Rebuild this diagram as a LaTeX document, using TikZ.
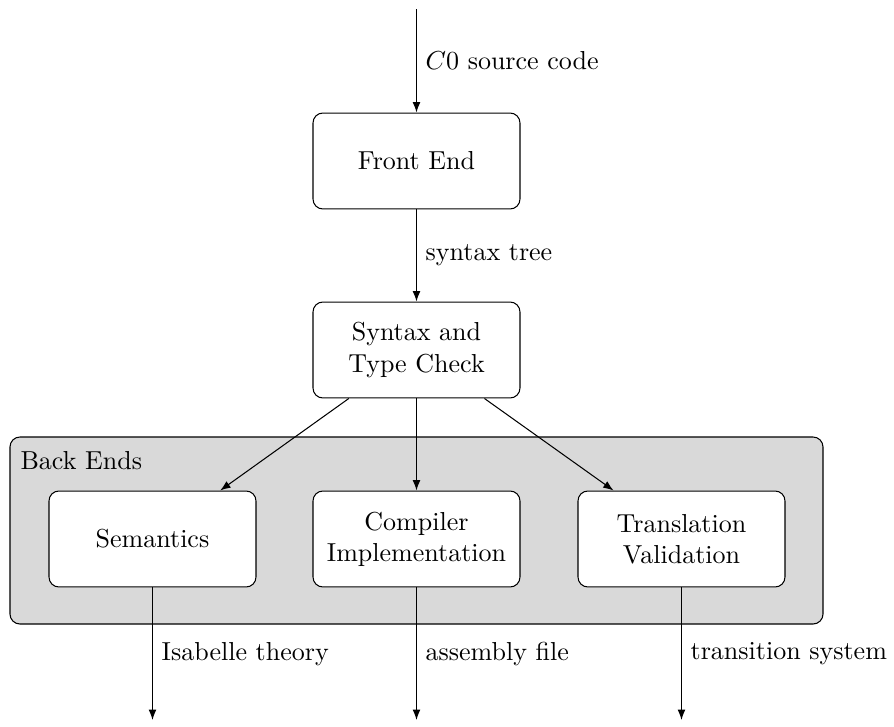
\documentclass[tikz,border=0pt]{standalone}
\usetikzlibrary{arrows.meta}
\begin{document}
\begin{tikzpicture}[
  x=0.3846pt, y=-0.3846pt,
  stage/.style={draw, rounded corners=3.8pt, fill=white, align=center,
    minimum width=79.6pt, minimum height=36.9pt, inner sep=0pt},
  flow/.style={-{Latex[length=4pt,width=3pt]}},
  lbl/.style={right}
]
\useasboundingbox (0,0) rectangle (894,727);

% container for the back ends
\node[draw, fill=gray!30, rounded corners=3.8pt, minimum width=813*0.3846pt,
  minimum height=187*0.3846pt, inner sep=0pt] (backends) at (416.5,530.5) {};
\node[anchor=north west, inner sep=0pt] (belabel) at (20,451) {Back Ends};

% pipeline stages
\node[stage] (front) at (416.5,161) {Front End};
\node[stage] (check) at (416.5,350) {Syntax and\\Type Check};
\node[stage] (sem)   at (152.5,539) {Semantics};
\node[stage] (comp)  at (416.5,539) {Compiler\\Implementation};
\node[stage] (trans) at (681.5,539) {Translation\\Validation};

% free ends of the input and output arrows
\coordinate (in)   at (416.5,9);
\coordinate (osem) at (152.5,720);
\coordinate (ocomp) at (416.5,720);
\coordinate (otrans) at (681.5,720);

\draw[flow] (in) -- node[lbl] {$C0$ source code} (front);
\draw[flow] (front) -- node[lbl] {syntax tree} (check);
\draw[flow] (check) -- (sem);
\draw[flow] (check) -- (comp);
\draw[flow] (check) -- (trans);
\draw[flow] (sem.south) -- node[lbl] {Isabelle theory} (osem);
\draw[flow] (comp.south) -- node[lbl] {assembly file} (ocomp);
\draw[flow] (trans.south) -- node[lbl] {transition system} (otrans);
\end{tikzpicture}
\end{document}
